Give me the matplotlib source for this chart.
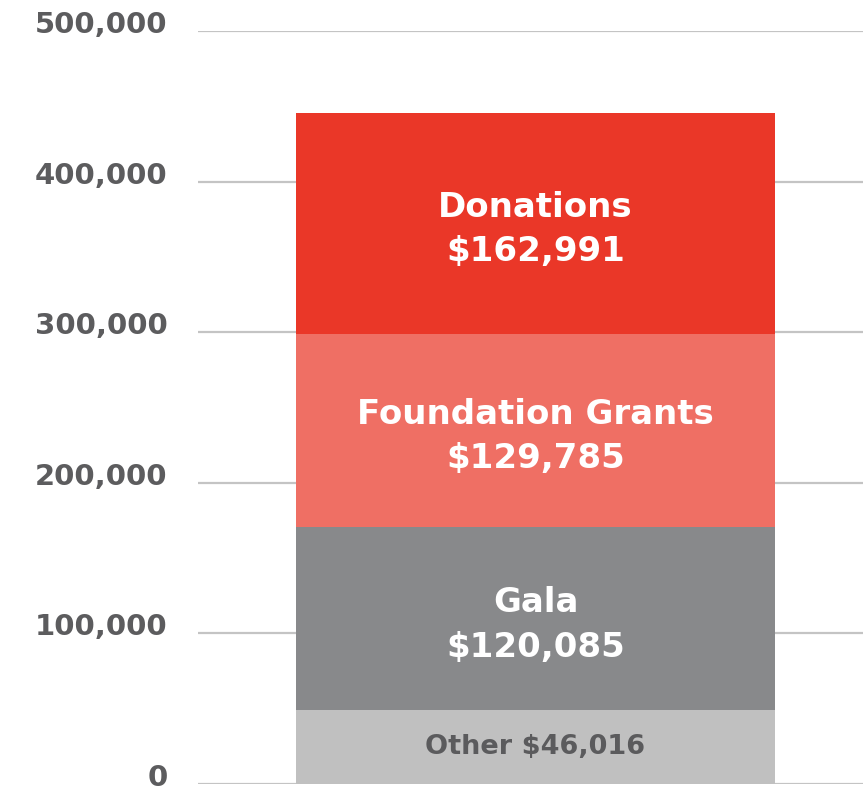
import matplotlib
matplotlib.use("Agg")
import matplotlib.pyplot as plt
import matplotlib.transforms as mtransforms
from matplotlib.ticker import FuncFormatter

# segments from bottom to top; heights
sources = ["Other", "Gala", "Foundation Grants", "Donations"]
heights = [49000, 121500, 128500, 146500]
amounts = ["$46,016", "$120,085", "$129,785", "$162,991"]
colors = ["#c0c0c0", "#88898b", "#ef6f64", "#ea3728"]
text_colors = ["#5b5b5d", "white", "white", "white"]
y_ticks = [0, 100000, 200000, 300000, 400000, 500000]


def make_label(name, amount):
    # the small bottom segment keeps its label on one line
    if name == "Other":
        return "{} {}".format(name, amount)
    return "{}\n{}".format(name, amount)


fig = plt.figure(figsize=(8.63, 7.91), dpi=100)
ax = fig.add_axes([198 / 863, 7 / 791, 665 / 863, 753 / 791])

bottom = 0
for name, h, amount, c, tc in zip(sources, heights, amounts, colors, text_colors):
    ax.bar(0, h, bottom=bottom, width=0.72, color=c, zorder=2)
    size = 19.5 if name == "Other" else 24.5
    drop = 0 if name == "Other" else -6
    ax.annotate(make_label(name, amount), (0, bottom + h / 2), xytext=(0, drop),
                textcoords="offset pixels", ha="center", va="center",
                color=tc, fontsize=size, fontweight="bold", linespacing=1.45, zorder=3)
    bottom += h

ax.set_xlim(-0.5073, 0.4923)
ax.set_ylim(0, 500000)
ax.set_yticks(y_ticks)
ax.yaxis.set_major_formatter(FuncFormatter(lambda v, p: "{:,.0f}".format(v)))
ax.set_xticks([])
ax.grid(axis="y", color="#c4c4c4", linewidth=1.6, zorder=1)
ax.set_axisbelow(True)
ax.tick_params(axis="y", length=0, pad=22, labelsize=21, labelcolor="#5c5c5e")
# tick labels sit a little above their gridlines
shift = mtransforms.ScaledTranslation(0, 9 / 100, fig.dpi_scale_trans)
for lbl in ax.get_yticklabels():
    lbl.set_fontweight("bold")
    lbl.set_transform(lbl.get_transform() + shift)
for s in ax.spines.values():
    s.set_visible(False)

fig.savefig("out.png", dpi=100)
